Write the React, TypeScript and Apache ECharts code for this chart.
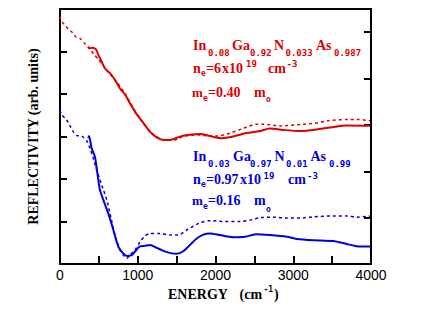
import React, { useEffect, useRef } from "react";
import * as echarts from "echarts";

// X axis ticks
const xTicks = [0, 500, 1000, 1500, 2000, 2500, 3000, 3500, 4000];

// Red sample: In0.08Ga0.92N0.033As0.987 — measured (solid)
const redExpE = [364, 373, 412, 463, 493, 536, 579, 643, 707, 772, 836, 900, 965, 1059, 1158, 1244, 1325, 1415, 1582, 1801, 1929, 2080, 2229, 2401, 2572, 2697, 2894, 3087, 3318, 3537, 3678, 3987];
const redExpR = [5.11, 5.07, 5.09, 5.05, 4.92, 4.76, 4.6, 4.49, 4.33, 4.13, 3.99, 3.78, 3.58, 3.35, 3.11, 2.98, 2.92, 2.92, 3.02, 3.06, 3.01, 2.96, 3.0, 3.08, 3.13, 3.19, 3.15, 3.13, 3.17, 3.23, 3.26, 3.25];
// Red sample — calculated (dotted)
const redCalcE = [0, 13, 55, 107, 163, 206, 257, 322, 364, 441, 493, 579, 729, 814, 900, 965, 1055, 1158, 1248, 1351, 1479, 1582, 1762, 1929, 2019, 2187, 2354, 2530, 2611, 2826, 3125, 3280, 3447, 3678, 3833, 3987];
const redCalcR = [5.82, 5.72, 5.64, 5.53, 5.44, 5.34, 5.31, 5.18, 5.11, 4.92, 4.82, 4.61, 4.28, 4.07, 3.81, 3.6, 3.35, 3.12, 2.99, 2.92, 2.92, 3.0, 3.04, 3.01, 3.01, 3.08, 3.19, 3.29, 3.29, 3.25, 3.29, 3.31, 3.37, 3.4, 3.4, 3.37];

// Blue sample: In0.03Ga0.97N0.01As0.99 — measured (solid)
const blueExpE = [364, 373, 408, 450, 472, 493, 514, 557, 621, 686, 750, 794, 858, 922, 965, 1020, 1093, 1158, 1244, 1329, 1437, 1501, 1586, 1672, 1758, 1843, 1929, 2058, 2229, 2380, 2530, 2701, 2916, 3044, 3258, 3515, 3687, 3816, 3987];
const blueExpR = [2.96, 3.01, 2.72, 2.52, 2.25, 1.98, 1.74, 1.51, 1.19, 0.8, 0.41, 0.29, 0.19, 0.21, 0.29, 0.41, 0.43, 0.45, 0.38, 0.31, 0.25, 0.24, 0.3, 0.45, 0.6, 0.69, 0.72, 0.68, 0.63, 0.64, 0.7, 0.68, 0.64, 0.59, 0.56, 0.54, 0.47, 0.42, 0.41];
// Blue sample — calculated (dotted)
const blueCalcE = [0, 22, 86, 129, 171, 215, 279, 343, 386, 428, 472, 536, 601, 643, 707, 772, 814, 858, 900, 965, 1029, 1093, 1158, 1286, 1415, 1522, 1630, 1801, 1929, 2096, 2315, 2466, 2572, 2740, 2920, 3087, 3254, 3511, 3691, 3820, 3987];
const blueCalcR = [3.62, 3.51, 3.39, 3.25, 3.11, 3.02, 3.01, 2.9, 2.72, 2.49, 2.21, 1.86, 1.51, 1.19, 0.68, 0.33, 0.21, 0.13, 0.21, 0.33, 0.52, 0.66, 0.72, 0.72, 0.68, 0.68, 0.8, 0.97, 1.02, 1.0, 1.0, 1.04, 1.09, 1.1, 1.08, 1.08, 1.11, 1.13, 1.13, 1.1, 1.13];

const RED = "#dd0000";
const BLUE = "#0000dd";
const SERIF = "'Liberation Serif', 'Times New Roman', serif";
const SUBF = "'DejaVu Sans Mono', monospace";

const pairs = (xs: number[], ys: number[]) => xs.map((x, i) => [x, ys[i]]);

type Piece = { t: string; x: number; y: number; kind: "main" | "sub" | "sup" | "small" | "m" };

function fontFor(kind: Piece["kind"]) {
  if (kind === "main") return `bold 14px ${SERIF}`;
  if (kind === "m") return `bold 13px ${SERIF}`;
  if (kind === "small") return `bold 8px ${SUBF}`;
  return `bold 9px ${SUBF}`;
}

function pieces(color: string, list: Piece[]) {
  return list.map((p) => ({
    type: "text",
    x: p.x,
    y: p.y,
    silent: true,
    style: {
      text: p.t,
      fill: color,
      align: "left",
      verticalAlign: "middle",
      font: fontFor(p.kind),
    },
  }));
}

const redText: Piece[] = [
  { t: "In", x: 193, y: 45, kind: "main" },
  { t: "0.08", x: 208, y: 53, kind: "sub" },
  { t: "Ga", x: 232, y: 45, kind: "main" },
  { t: "0.92", x: 250, y: 53, kind: "sub" },
  { t: "N", x: 274, y: 45, kind: "main" },
  { t: "0.033", x: 285.5, y: 53, kind: "sub" },
  { t: "As", x: 316, y: 45, kind: "main" },
  { t: "0.987", x: 334, y: 53, kind: "sub" },
  { t: "n", x: 193, y: 68, kind: "main" },
  { t: "e", x: 201, y: 73, kind: "small" },
  { t: "=6", x: 206, y: 68, kind: "main" },
  { t: "x10", x: 222, y: 68, kind: "main" },
  { t: "19", x: 246, y: 64, kind: "sup" },
  { t: "cm", x: 268, y: 68, kind: "main" },
  { t: "-3", x: 286.5, y: 64, kind: "sup" },
  { t: "m", x: 192, y: 92, kind: "m" },
  { t: "e", x: 203, y: 98, kind: "small" },
  { t: "=0.40", x: 208, y: 92, kind: "main" },
  { t: "m", x: 254, y: 92, kind: "main" },
  { t: "o", x: 266, y: 99, kind: "small" },
];

const blueText: Piece[] = [
  { t: "In", x: 193, y: 156, kind: "main" },
  { t: "0.03", x: 208, y: 164, kind: "sub" },
  { t: "Ga", x: 233, y: 156, kind: "main" },
  { t: "0.97", x: 250, y: 164, kind: "sub" },
  { t: "N", x: 274.5, y: 156, kind: "main" },
  { t: "0.01", x: 286, y: 164, kind: "sub" },
  { t: "As", x: 310.5, y: 156, kind: "main" },
  { t: "0.99", x: 329, y: 164, kind: "sub" },
  { t: "n", x: 193, y: 179.5, kind: "main" },
  { t: "e", x: 201, y: 184.5, kind: "small" },
  { t: "=0.97", x: 206, y: 179.5, kind: "main" },
  { t: "x10", x: 240, y: 179.5, kind: "main" },
  { t: "19", x: 263.5, y: 176, kind: "sup" },
  { t: "cm", x: 288, y: 179.5, kind: "main" },
  { t: "-3", x: 307, y: 176, kind: "sup" },
  { t: "m", x: 192, y: 200.5, kind: "m" },
  { t: "e", x: 203, y: 206.5, kind: "small" },
  { t: "=0.16", x: 208, y: 200.5, kind: "main" },
  { t: "m", x: 254, y: 200.5, kind: "main" },
  { t: "o", x: 266, y: 209, kind: "small" },
];

export default function App() {
  const ref = useRef<HTMLDivElement>(null);
  useEffect(() => {
    if (!ref.current) return;
    const chart = echarts.init(ref.current, null, { renderer: "svg" });
    const tick = { show: true, inside: true, length: 7, lineStyle: { color: "#000", width: 2 } };
    chart.setOption({
      animation: false,
      backgroundColor: "#fff",
      grid: {
        left: 60,
        right: 55,
        top: 9,
        bottom: 48,
        show: true,
        borderColor: "#000",
        borderWidth: 2,
        backgroundColor: "transparent",
      },
      xAxis: {
        type: "value",
        min: xTicks[0],
        max: xTicks[xTicks.length - 1],
        interval: 500,
        axisLine: { show: false },
        axisTick: { ...tick, length: 8 },
        splitLine: { show: false },
        axisLabel: {
          margin: 4,
          color: "#000",
          fontFamily: "'Liberation Sans', Arial, sans-serif",
          fontSize: 14,
          formatter: (v: number) => (v % 1000 === 0 ? String(v) : ""),
        },
      },
      yAxis: [
        {
          type: "value",
          min: 0,
          max: 6,
          interval: 1,
          axisLine: { show: false },
          axisTick: tick,
          axisLabel: { show: false },
          splitLine: { show: false },
        },
        {
          type: "value",
          position: "right",
          min: 0,
          max: 5.5,
          interval: 1,
          axisLine: { show: false },
          axisTick: tick,
          axisLabel: { show: false },
          splitLine: { show: false },
        },
      ],
      series: [
        {
          type: "line",
          data: pairs(redCalcE, redCalcR),
          showSymbol: false,
          smooth: 0.25,
          lineStyle: { color: RED, width: 1.5, type: [3, 3] },
          silent: true,
        },
        {
          type: "line",
          data: pairs(redExpE, redExpR),
          showSymbol: false,
          smooth: 0.25,
          lineStyle: { color: RED, width: 2 },
          silent: true,
        },
        {
          type: "line",
          data: pairs(blueCalcE, blueCalcR),
          showSymbol: false,
          smooth: 0.25,
          lineStyle: { color: BLUE, width: 1.5, type: [3, 3] },
          silent: true,
        },
        {
          type: "line",
          data: pairs(blueExpE, blueExpR),
          showSymbol: false,
          smooth: 0.25,
          lineStyle: { color: BLUE, width: 2 },
          silent: true,
        },
      ],
      graphic: [
        ...pieces(RED, redText),
        ...pieces(BLUE, blueText),
        {
          type: "text",
          x: 33,
          y: 136.5,
          rotation: Math.PI / 2,
          silent: true,
          style: {
            text: "REFLECTIVITY (arb. units)",
            fill: "#000",
            align: "center",
            verticalAlign: "middle",
            font: `bold 14px ${SERIF}`,
          },
        },
        {
          type: "text",
          x: 168,
          y: 294,
          silent: true,
          style: { text: "ENERGY", fill: "#000", align: "left", verticalAlign: "middle", font: `bold 14px ${SERIF}` },
        },
        {
          type: "text",
          x: 239.5,
          y: 294,
          silent: true,
          style: { text: "(cm", fill: "#000", align: "left", verticalAlign: "middle", font: `bold 14px ${SERIF}` },
        },
        {
          type: "text",
          x: 263.5,
          y: 289,
          silent: true,
          style: { text: "-1", fill: "#000", align: "left", verticalAlign: "middle", font: `bold 8px ${SUBF}` },
        },
        {
          type: "text",
          x: 274,
          y: 294,
          silent: true,
          style: { text: ")", fill: "#000", align: "left", verticalAlign: "middle", font: `bold 14px ${SERIF}` },
        },
      ],
    });
    return () => chart.dispose();
  }, []);
  return (
    <div
      ref={ref}
      style={{ width: 426, height: 312, position: "absolute", left: 0, top: 0, background: "#fff" }}
    />
  );
}
